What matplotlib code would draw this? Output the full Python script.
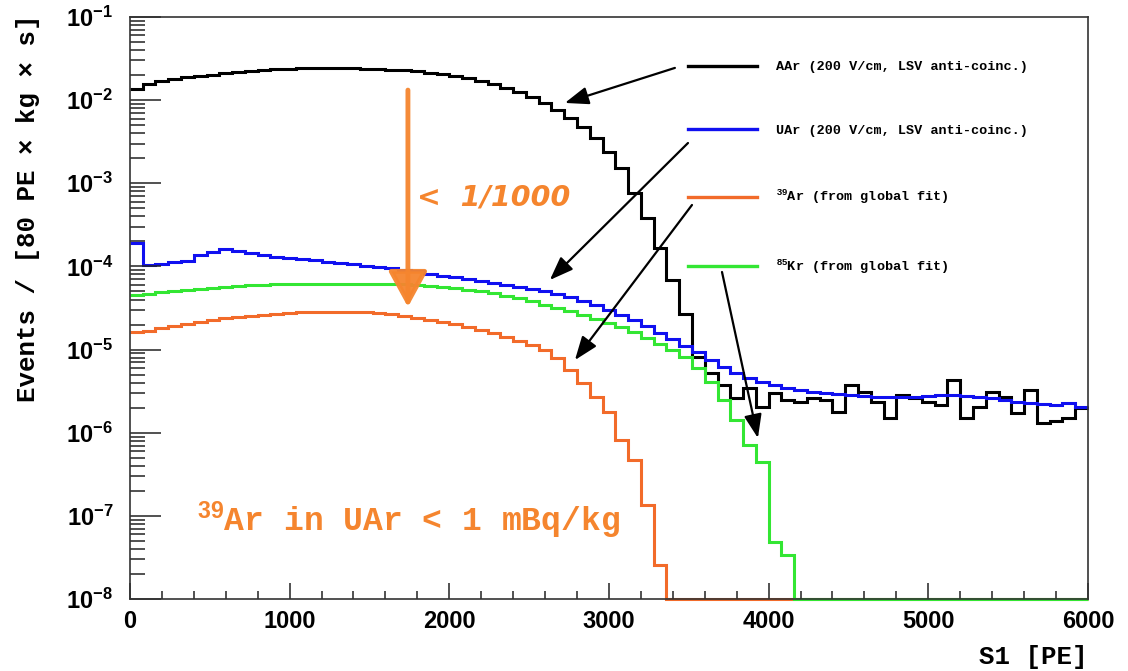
import numpy as np
import matplotlib
matplotlib.use('Agg')
import matplotlib.pyplot as plt
from matplotlib.lines import Line2D
from matplotlib.ticker import MultipleLocator, LogLocator, NullFormatter, FuncFormatter
from matplotlib.font_manager import FontProperties

plt.rcParams['font.family'] = ['Liberation Sans', 'DejaVu Sans']
plt.rcParams['font.weight'] = 'bold'
plt.rcParams['mathtext.fontset'] = 'custom'
plt.rcParams['mathtext.rm'] = 'Liberation Sans:bold'
plt.rcParams['mathtext.bf'] = 'Liberation Sans:bold'
plt.rcParams['mathtext.it'] = 'Liberation Sans:bold'

#++++++++++++++++++++++++++++++++++++++++++++++
# histogram data: 75 bins of 80 PE, 0 - 6000 PE
#++++++++++++++++++++++++++++++++++++++++++++++
bin_edges = np.arange(0, 6001, 80)

aar = [1.36e-2, 1.56e-2, 1.70e-2, 1.79e-2, 1.90e-2, 1.95e-2, 2.03e-2, 2.12e-2, 2.18e-2, 2.26e-2,
       2.31e-2, 2.37e-2, 2.40e-2, 2.44e-2, 2.44e-2, 2.44e-2, 2.44e-2, 2.42e-2, 2.40e-2, 2.37e-2,
       2.33e-2, 2.28e-2, 2.22e-2, 2.14e-2, 2.05e-2, 1.95e-2, 1.84e-2, 1.70e-2, 1.56e-2, 1.40e-2,
       1.25e-2, 1.09e-2, 9.2e-3, 7.6e-3, 6.1e-3, 4.75e-3, 3.5e-3, 2.4e-3, 1.53e-3, 7.6e-4,
       3.8e-4, 1.67e-4, 6.9e-5, 2.7e-5, 8.1e-6, 5.2e-6, 3.75e-6, 2.6e-6, 3.45e-6, 2.04e-6,
       3.0e-6, 2.47e-6, 2.34e-6, 2.6e-6, 2.47e-6, 1.77e-6, 3.75e-6, 3.1e-6, 2.34e-6, 1.5e-6,
       2.84e-6, 2.6e-6, 2.34e-6, 2.15e-6, 4.3e-6, 1.5e-6, 2.04e-6, 3.1e-6, 2.7e-6, 1.73e-6,
       3.27e-6, 1.31e-6, 1.38e-6, 1.5e-6, 2.0e-6]

uar = [1.91e-4, 1.04e-4, 1.06e-4, 1.12e-4, 1.15e-4, 1.37e-4, 1.49e-4, 1.62e-4, 1.53e-4, 1.45e-4,
       1.37e-4, 1.30e-4, 1.26e-4, 1.23e-4, 1.19e-4, 1.13e-4, 1.10e-4, 1.07e-4, 1.01e-4, 9.84e-5,
       9.57e-5, 9.05e-5, 8.81e-5, 8.11e-5, 7.67e-5, 7.46e-5, 7.06e-5, 6.68e-5, 6.32e-5, 5.98e-5,
       5.65e-5, 5.35e-5, 5.06e-5, 4.66e-5, 4.29e-5, 3.84e-5, 3.43e-5, 2.99e-5, 2.61e-5, 2.27e-5,
       1.92e-5, 1.58e-5, 1.34e-5, 1.10e-5, 9.35e-6, 7.49e-6, 6.17e-6, 5.22e-6, 4.55e-6, 4.07e-6,
       3.75e-6, 3.45e-6, 3.27e-6, 3.09e-6, 3.01e-6, 2.92e-6, 2.84e-6, 2.76e-6, 2.69e-6, 2.69e-6,
       2.69e-6, 2.69e-6, 2.76e-6, 2.84e-6, 2.84e-6, 2.76e-6, 2.69e-6, 2.61e-6, 2.47e-6, 2.34e-6,
       2.27e-6, 2.21e-6, 2.15e-6, 2.27e-6, 2.04e-6]

ar39 = [1.63e-5, 1.67e-5, 1.82e-5, 1.92e-5, 2.03e-5, 2.15e-5, 2.27e-5, 2.40e-5, 2.46e-5, 2.53e-5,
        2.61e-5, 2.68e-5, 2.75e-5, 2.83e-5, 2.83e-5, 2.83e-5, 2.83e-5, 2.83e-5, 2.83e-5, 2.75e-5,
        2.68e-5, 2.53e-5, 2.40e-5, 2.27e-5, 2.15e-5, 2.03e-5, 1.87e-5, 1.72e-5, 1.58e-5, 1.42e-5,
        1.27e-5, 1.13e-5, 9.88e-6, 7.93e-6, 5.68e-6, 3.96e-6, 2.69e-6, 1.77e-6, 8.17e-7, 4.70e-7,
        1.35e-7, 2.56e-8] + [0.0] * 33

kr85 = [4.53e-5, 4.66e-5, 4.92e-5, 5.06e-5, 5.20e-5, 5.35e-5, 5.50e-5, 5.65e-5, 5.81e-5, 5.90e-5,
        5.98e-5, 6.07e-5, 6.15e-5, 6.15e-5, 6.15e-5, 6.15e-5, 6.15e-5, 6.15e-5, 6.15e-5, 6.15e-5,
        6.15e-5, 6.07e-5, 5.98e-5, 5.81e-5, 5.65e-5, 5.50e-5, 5.27e-5, 5.06e-5, 4.79e-5, 4.41e-5,
        4.17e-5, 3.84e-5, 3.43e-5, 3.16e-5, 2.91e-5, 2.61e-5, 2.33e-5, 2.09e-5, 1.87e-5, 1.63e-5,
        1.38e-5, 1.17e-5, 9.88e-6, 8.14e-6, 6.0e-6, 4.07e-6, 2.47e-6, 1.42e-6, 7.11e-7, 4.44e-7,
        4.84e-8, 3.38e-8] + [0.0] * 23

labels = ['AAr (200 V/cm, LSV anti-coinc.)',
          'UAr (200 V/cm, LSV anti-coinc.)',
          r'$^{\mathbf{39}}$Ar (from global fit)',
          r'$^{\mathbf{85}}$Kr (from global fit)']
colors = ['#000000', '#1010f0', '#f26b2a', '#33e633']

ymin, ymax = 1e-8, 1e-1

#===========================
# Figure
#===========================
fig = plt.figure(figsize=(11.28, 6.71), dpi=100)
ax = fig.add_axes([0.1152, 0.1073, 0.8493, 0.8674])
ax.set_yscale('log')

series = [aar, uar, ar39, kr85]
for vals, col in zip(series, colors):
    v = np.array(vals)
    v = np.where(v > 0, v, ymin)   # empty bins sit on the floor of the plot
    ax.stairs(v, bin_edges, baseline=None, color=col, lw=2.2, clip_on=False)

ax.set_xlim(0, 6000)
ax.set_ylim(ymin, ymax)

# ticks, ROOT style
ax.xaxis.set_major_locator(MultipleLocator(1000))
ax.xaxis.set_minor_locator(MultipleLocator(200))
ax.yaxis.set_major_locator(LogLocator(base=10, numticks=20))
ax.yaxis.set_minor_locator(LogLocator(base=10, subs=np.arange(2, 10), numticks=20))
ax.yaxis.set_minor_formatter(NullFormatter())
ax.yaxis.set_major_formatter(FuncFormatter(lambda v, p: r'$\mathbf{10^{%d}}$' % round(np.log10(v))))
ax.tick_params(which='both', direction='in', top=False, right=False, width=1.1, color='#222222')
ax.tick_params(axis='x', which='major', length=11.5, pad=8, labelsize=17)
ax.tick_params(axis='x', which='minor', length=5.8)
ax.tick_params(axis='y', which='major', length=22, pad=12, labelsize=17)
ax.tick_params(axis='y', which='minor', length=11)
for s in ax.spines.values():
    s.set_linewidth(1.2)
    s.set_color('#333333')

mono_big = FontProperties(family=['Liberation Mono', 'DejaVu Sans Mono'], weight='bold', size=18.5)
ax.set_ylabel('Events / [80 PE × kg × s]', fontproperties=mono_big, loc='top')
ax.yaxis.set_label_coords(-0.094, 1.005)
ax.set_xlabel('S1 [PE]', fontproperties=mono_big, loc='right')
ax.xaxis.set_label_coords(1.0, -0.079)

# legend
handles = [Line2D([], [], color=c, lw=2.4) for c in colors]
ax.legend(handles, labels, loc='upper left', bbox_to_anchor=(0.5825, 0.9244),
          frameon=False, handlelength=5.1, handletextpad=1.4, labelspacing=3.8,
          borderpad=0, borderaxespad=0,
          prop=FontProperties(family=['Liberation Mono', 'DejaVu Sans Mono'], weight='bold', size=9.7))

# pointer arrows from legend to curves
arrow_kw = dict(arrowstyle='-|>,head_length=0.8,head_width=0.3', color='black', lw=1.6,
                mutation_scale=18, shrinkA=0, shrinkB=0)
ax.annotate('', xy=(2724, 9.25e-3), xytext=(3413, 2.44e-2), arrowprops=arrow_kw)
ax.annotate('', xy=(2630, 6.87e-5), xytext=(3495, 3.05e-3), arrowprops=arrow_kw)
ax.annotate('', xy=(2787, 7.48e-6), xytext=(3520, 5.48e-4), arrowprops=arrow_kw)
ax.annotate('', xy=(3933, 8.63e-7), xytext=(3708, 8.57e-5), arrowprops=arrow_kw)

# orange reduction arrow and notes
note_col = '#f5852e'
ax.annotate('', xy=(1741, 3.25e-5), xytext=(1741, 1.32e-2),
            arrowprops=dict(arrowstyle='-|>,head_length=1.1,head_width=0.6', color=note_col,
                            lw=3.5, mutation_scale=20, shrinkA=0, shrinkB=0, alpha=0.95))
ax.text(1800, 6.8e-4, '<  1/1000', color=note_col, fontsize=20.5, fontweight='bold',
        fontstyle='oblique', family='DejaVu Sans', va='center', ha='left')
ax.text(420, 8.9e-8, r'$^{\mathbf{39}}$Ar in UAr < 1 mBq/kg', color=note_col,
        fontproperties=FontProperties(family=['Liberation Mono', 'DejaVu Sans Mono'], weight='bold', size=23.8),
        va='center', ha='left')

fig.savefig('out.png', dpi=100)
